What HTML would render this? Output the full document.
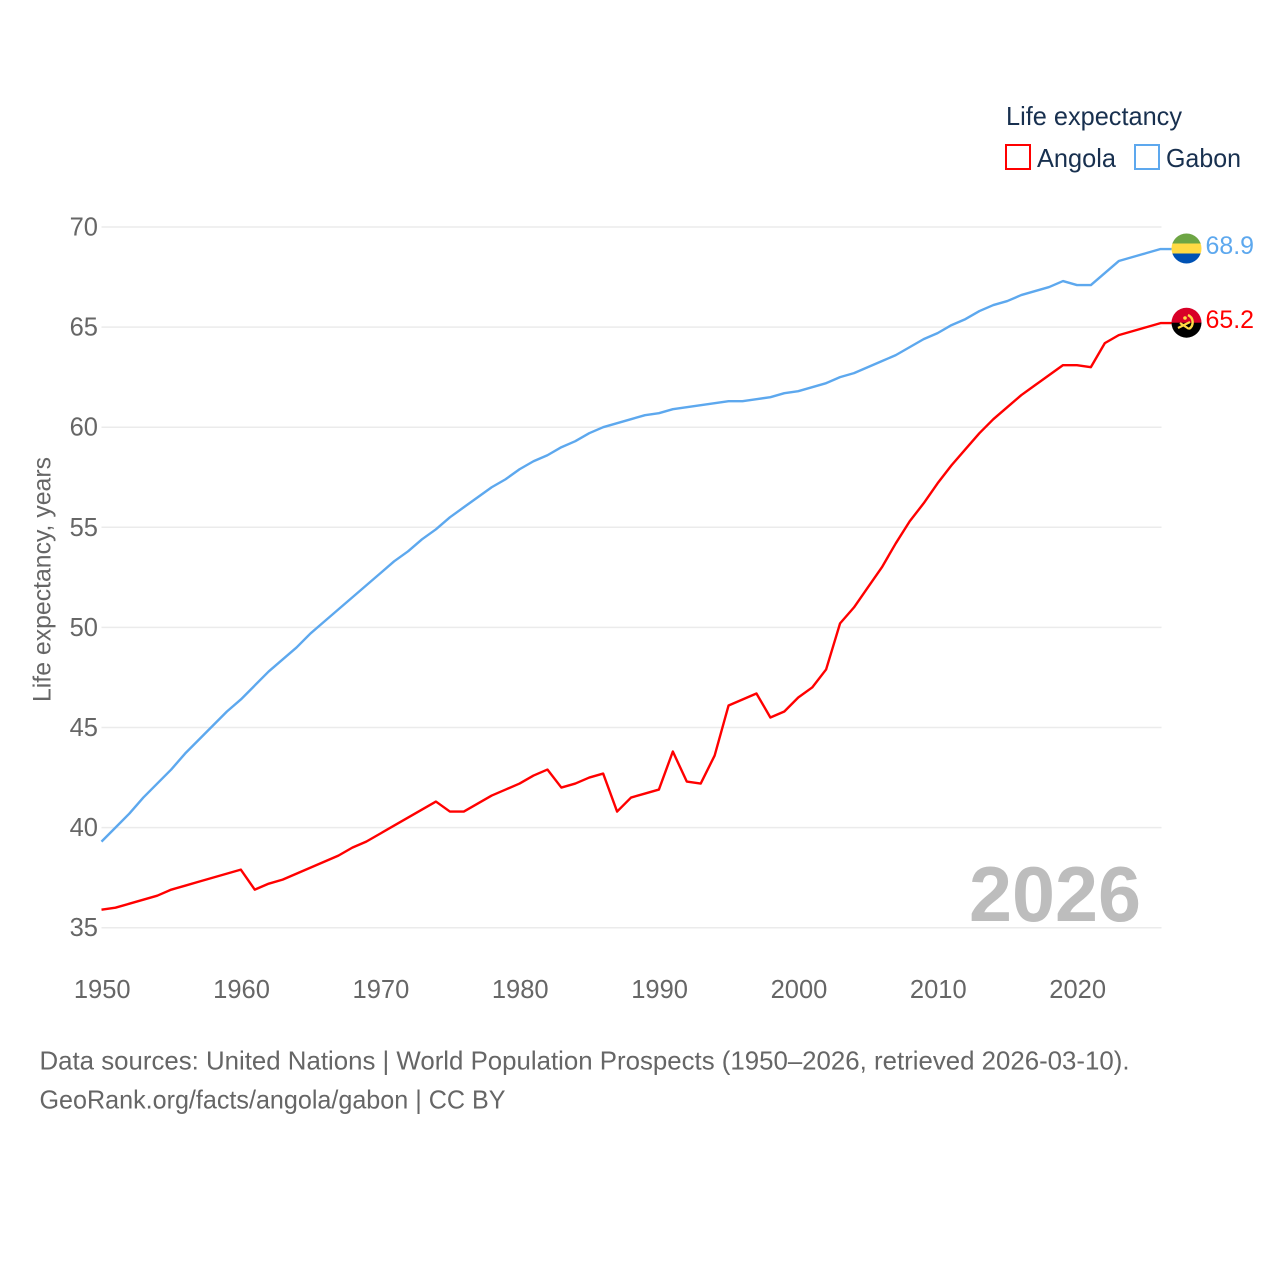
<!DOCTYPE html>
<html lang="en">
<head>
<meta charset="utf-8">
<title>Life expectancy: Angola and Gabon</title>
<style>
html,body{margin:0;padding:0;background:#fff;width:1280px;height:1280px;overflow:hidden}
svg{display:block;font-family:"Liberation Sans",sans-serif}
</style>
</head>
<body>
<svg id="chart" width="1280" height="1280" viewBox="0 0 1280 1280" xmlns="http://www.w3.org/2000/svg">
  <defs>
    <clipPath id="clip-gabon"><circle cx="1186.5" cy="248.5" r="15"/></clipPath>
    <clipPath id="clip-angola"><circle cx="1186.5" cy="322.7" r="15"/></clipPath>
  </defs>
  <g id="grid"></g>
  <g id="y-ticks"></g>
  <g id="x-ticks"></g>
  <text transform="translate(50.5,702) rotate(-90)" font-size="25" fill="#666" textLength="245" lengthAdjust="spacingAndGlyphs">Life expectancy, years</text>
  <text x="969" y="921" font-size="78" font-weight="700" fill="#bdbdbd" textLength="172" lengthAdjust="spacingAndGlyphs">2026</text>
  <g id="series"></g>

  <g clip-path="url(#clip-gabon)">
    <rect x="1171" y="233" width="31" height="11" fill="#6da544"/>
    <rect x="1171" y="243.5" width="31" height="10.5" fill="#ffda44"/>
    <rect x="1171" y="253.5" width="31" height="11" fill="#0052b4"/>
  </g>
  <g clip-path="url(#clip-angola)">
    <rect x="1171" y="307" width="31" height="16" fill="#d80027"/>
    <rect x="1171" y="322.7" width="31" height="16" fill="#000"/>
    <path d="M1188 315a8 8 0 0 1 1 14" fill="none" stroke="#ffda44" stroke-width="2.4"/>
    <path d="M1178 328l12-6M1180 323l9 6" fill="none" stroke="#ffda44" stroke-width="2.2"/>
    <circle cx="1185" cy="318" r="1.8" fill="#ffda44"/>
  </g>

  <text x="1205.5" y="254" font-size="25" fill="#5da8ee" textLength="48.5" lengthAdjust="spacingAndGlyphs">68.9</text>
  <text x="1205.5" y="328" font-size="25" fill="#ff0000" textLength="48.5" lengthAdjust="spacingAndGlyphs">65.2</text>

  <g>
    <text x="1006" y="125" font-size="26" fill="#18304f" textLength="176" lengthAdjust="spacingAndGlyphs">Life expectancy</text>
    <rect x="1006" y="145" width="24" height="24" fill="#fff" stroke="#ff0000" stroke-width="2"/>
    <text x="1037" y="167" font-size="26" fill="#18304f" textLength="79" lengthAdjust="spacingAndGlyphs">Angola</text>
    <rect x="1135" y="145" width="24" height="24" fill="#fff" stroke="#5da8ee" stroke-width="2"/>
    <text x="1166" y="167" font-size="26" fill="#18304f" textLength="75" lengthAdjust="spacingAndGlyphs">Gabon</text>
  </g>

  <text x="39.5" y="1069.5" font-size="26" fill="#666" textLength="1090" lengthAdjust="spacingAndGlyphs">Data sources: United Nations | World Population Prospects (1950–2026, retrieved 2026-03-10).</text>
  <text x="39.5" y="1108.5" font-size="26" fill="#666" textLength="466" lengthAdjust="spacingAndGlyphs">GeoRank.org/facts/angola/gabon | CC BY</text>
</svg>
<script>
const startYear = 1950;
const angolaValues = [35.9,36.0,36.2,36.4,36.6,36.9,37.1,37.3,37.5,37.7,37.9,36.9,37.2,37.4,37.7,38.0,38.3,38.6,39.0,39.3,39.7,40.1,40.5,40.9,41.3,40.8,40.8,41.2,41.6,41.9,42.2,42.6,42.9,42.0,42.2,42.5,42.7,40.8,41.5,41.7,41.9,43.8,42.3,42.2,43.6,46.1,46.4,46.7,45.5,45.8,46.5,47.0,47.9,50.2,51.0,52.0,53.0,54.2,55.3,56.2,57.2,58.1,58.9,59.7,60.4,61.0,61.6,62.1,62.6,63.1,63.1,63.0,64.2,64.6,64.8,65.0,65.2];
const gabonValues = [39.3,40.0,40.7,41.5,42.2,42.9,43.7,44.4,45.1,45.8,46.4,47.1,47.8,48.4,49.0,49.7,50.3,50.9,51.5,52.1,52.7,53.3,53.8,54.4,54.9,55.5,56.0,56.5,57.0,57.4,57.9,58.3,58.6,59.0,59.3,59.7,60.0,60.2,60.4,60.6,60.7,60.9,61.0,61.1,61.2,61.3,61.3,61.4,61.5,61.7,61.8,62.0,62.2,62.5,62.7,63.0,63.3,63.6,64.0,64.4,64.7,65.1,65.4,65.8,66.1,66.3,66.6,66.8,67.0,67.3,67.1,67.1,67.7,68.3,68.5,68.7,68.9];
const yTickValues = [35,40,45,50,55,60,65,70];
const xTickValues = [1950,1960,1970,1980,1990,2000,2010,2020];

const NS = 'http://www.w3.org/2000/svg';
function xScale(year){ return 101.5 + (year - 1950) * 13.935; }
function yScale(v){ return 927.7 - (v - 35) * 20.02; }

const gridG = document.getElementById('grid');
const yG = document.getElementById('y-ticks');
const xG = document.getElementById('x-ticks');
const seriesG = document.getElementById('series');

yTickValues.forEach(function(v){
  const line = document.createElementNS(NS, 'line');
  line.setAttribute('x1', 101.5);
  line.setAttribute('x2', 1161.5);
  line.setAttribute('y1', yScale(v));
  line.setAttribute('y2', yScale(v));
  line.setAttribute('stroke', '#ebebeb');
  line.setAttribute('stroke-width', '1.5');
  
  
  gridG.appendChild(line);

  const t = document.createElementNS(NS, 'text');
  t.setAttribute('x', 98);
  t.setAttribute('y', yScale(v) + 8.5);
  t.setAttribute('text-anchor', 'end');
  t.setAttribute('font-size', '25.5');
  t.setAttribute('fill', '#666');
  t.textContent = String(v);
  
  
  yG.appendChild(t);
});

xTickValues.forEach(function(year){
  const t = document.createElementNS(NS, 'text');
  t.setAttribute('x', xScale(year) + 0.7);
  t.setAttribute('y', 998);
  t.setAttribute('text-anchor', 'middle');
  t.setAttribute('font-size', '25.5');
  t.setAttribute('fill', '#666');
  t.textContent = String(year);
  
  
  xG.appendChild(t);
});

function pathFor(values){
  let d = '';
  values.forEach(function(v, i){
    d += (i ? 'L' : 'M') + xScale(startYear + i).toFixed(2) + ' ' + yScale(v).toFixed(2);
  });
  const last = values[values.length - 1];
  d += 'L' + (xScale(startYear + values.length - 1) + 11).toFixed(2) + ' ' + yScale(last).toFixed(2);
  return d;
}

const gabonLine = document.createElementNS(NS, 'path');
gabonLine.setAttribute('d', pathFor(gabonValues));
gabonLine.setAttribute('fill', 'none');
gabonLine.setAttribute('stroke', '#5da8ee');
gabonLine.setAttribute('stroke-width', '2.4');
gabonLine.setAttribute('stroke-linejoin', 'round');


seriesG.appendChild(gabonLine);

const angolaLine = document.createElementNS(NS, 'path');
angolaLine.setAttribute('d', pathFor(angolaValues));
angolaLine.setAttribute('fill', 'none');
angolaLine.setAttribute('stroke', '#ff0000');
angolaLine.setAttribute('stroke-width', '2.4');
angolaLine.setAttribute('stroke-linejoin', 'round');


seriesG.appendChild(angolaLine);
</script>
</body>
</html>
